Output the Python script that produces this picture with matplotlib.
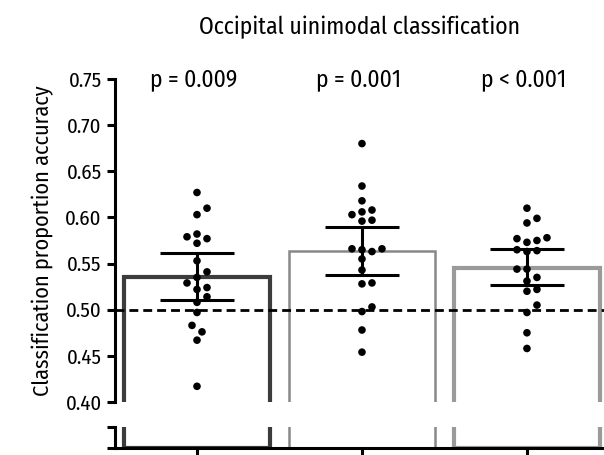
#!/usr/bin/env python3

import numpy as np
import matplotlib
matplotlib.use("Agg")
import matplotlib.pyplot as plt
from matplotlib import font_manager

# per-subject classification accuracy, one list per group
acc_1 = [0.627, 0.610, 0.603, 0.579, 0.572, 0.577, 0.582, 0.553, 0.541, 0.535,
         0.529, 0.524, 0.522, 0.514, 0.508, 0.497, 0.483, 0.476, 0.467, 0.417]
acc_2 = [0.680, 0.634, 0.618, 0.606, 0.608, 0.603, 0.597, 0.596, 0.563, 0.566,
         0.566, 0.565, 0.555, 0.543, 0.529, 0.528, 0.498, 0.503, 0.478, 0.454]
acc_3 = [0.610, 0.599, 0.594, 0.577, 0.573, 0.575, 0.578, 0.563, 0.564, 0.565,
         0.544, 0.544, 0.535, 0.531, 0.522, 0.520, 0.505, 0.497, 0.475, 0.458]

means = [0.535, 0.564, 0.545]
ci_low = [0.511, 0.538, 0.527]
ci_high = [0.561, 0.590, 0.566]
p_labels = ["p = 0.009", "p = 0.001", "p < 0.001"]
chance = 0.50

y_ticks = [0.40, 0.45, 0.50, 0.55, 0.60, 0.65, 0.70, 0.75]


def pick_font(names):
    for name in names:
        try:
            font_manager.findfont(name, fallback_to_default=False)
            return name
        except ValueError:
            pass
    return "DejaVu Sans"


def swarm_offsets(ax, x0, values, step_px=5.0, min_px=9.0):
    # greedy beeswarm in pixel space, lowest values placed first
    pts = ax.transData.transform([(x0, v) for v in values])
    order = np.argsort(values)
    placed = []
    offs = np.zeros(len(values))
    for i in order:
        px, py = pts[i]
        k = 0
        while True:
            cand = [0.0] if k == 0 else [k * step_px, -k * step_px]
            ok = None
            for c in cand:
                if all((px + c - qx) ** 2 + (py - qy) ** 2 >= min_px ** 2 for qx, qy in placed):
                    ok = c
                    break
            if ok is not None:
                placed.append((px + ok, py))
                offs[i] = ok
                break
            k += 1
    px_per_x = ax.transData.transform((1, 0))[0] - ax.transData.transform((0, 0))[0]
    return offs / px_per_x


def main():
    font = pick_font(["Fira Sans Condensed", "PT Sans Narrow", "Roboto Condensed",
                      "Archivo Narrow", "IBM Plex Sans Condensed", "Liberation Sans Narrow"])
    plt.rcParams["font.family"] = [font, "DejaVu Sans"]

    fig = plt.figure(figsize=(6.04, 4.55), dpi=100)
    ax = fig.add_axes([0.1904, 0.1165, 0.8096, 0.7099])
    ax_low = fig.add_axes([0.1904, 0.0154, 0.8096, 0.0462])

    groups = [acc_1, acc_2, acc_3]
    xs = np.arange(len(groups))
    edge_colors = ["#3c3c3c", "#888888", "#9a9a9a"]
    edge_widths = [3.0, 1.8, 3.0]

    for a in (ax, ax_low):
        for x, m, ec, lw in zip(xs, means, edge_colors, edge_widths):
            a.bar(x, m, width=0.885, bottom=0, facecolor="white",
                  edgecolor=ec, linewidth=lw, zorder=1)
        a.set_xlim(-0.497, 2.467)
        for s in ("top", "right"):
            a.spines[s].set_visible(False)
        a.spines["left"].set_linewidth(2.2)
        a.tick_params(axis="y", direction="out", length=6, width=2.2)

    # upper panel
    ax.set_ylim(0.40, 0.75)
    ax.spines["bottom"].set_visible(False)
    ax.set_xticks([])
    ax.set_yticks(y_ticks)
    ax.set_yticklabels([f"{t:.2f}" for t in y_ticks], fontsize=15)
    ax.set_ylabel("Classification proportion accuracy", fontsize=16, labelpad=8)
    ax.set_title("Occipital uinimodal classification", fontsize=17, pad=32)

    ax.axhline(chance, color="black", linewidth=2.0, linestyle=(0, (3.2, 1.8)), zorder=2)

    yerr = [np.array(means) - np.array(ci_low), np.array(ci_high) - np.array(means)]
    ax.errorbar(xs, means, yerr=yerr, fmt="none", ecolor="black",
                elinewidth=2.2, capsize=26.5, capthick=2.2, zorder=3)

    for x, vals in zip(xs, groups):
        dx = swarm_offsets(ax, x, vals)
        ax.scatter(x + dx, vals, s=30, color="black", edgecolors="none", zorder=4)

    for x, lab in zip(xs, p_labels):
        ax.text(x - 0.02, 0.75, lab, ha="center", va="center", fontsize=17)

    # lower panel of the broken axis
    ax_low.set_ylim(0, 0.05)
    ax_low.set_yticks([0, 0.05])
    ax_low.set_yticklabels([])
    ax_low.spines["bottom"].set_linewidth(2.2)
    ax_low.set_xticks(xs)
    ax_low.set_xticklabels([])
    ax_low.tick_params(axis="x", direction="out", length=10, width=2.2)

    fig.savefig("out.png", dpi=100)
    plt.close(fig)


if __name__ == "__main__":
    main()
